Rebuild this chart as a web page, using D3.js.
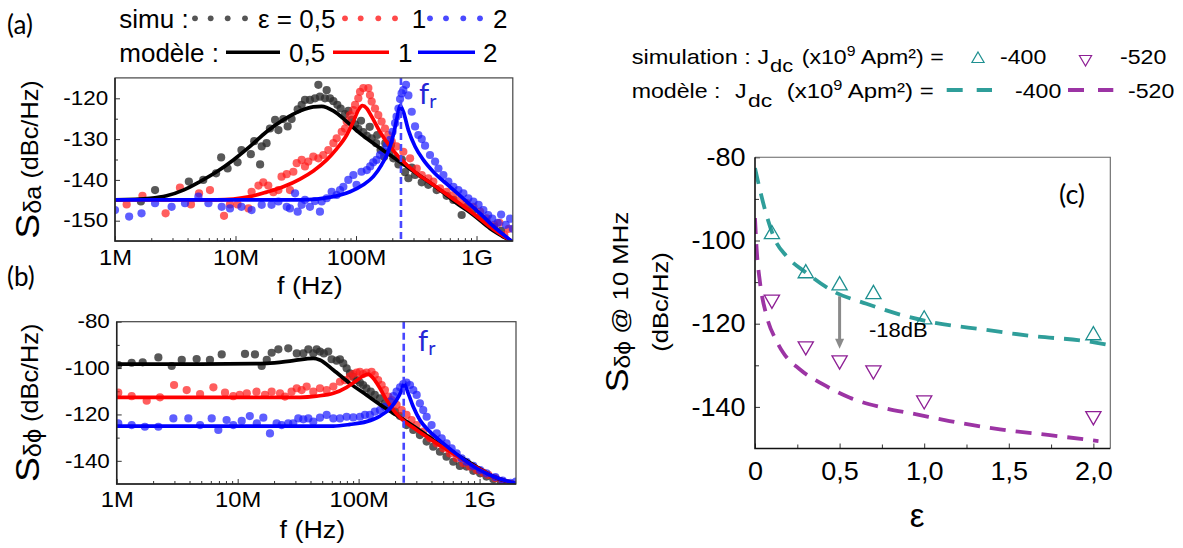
<!DOCTYPE html>
<html><head><meta charset="utf-8">
<script src="https://cdn.jsdelivr.net/npm/d3@7"></script>
<style>html,body{margin:0;padding:0;background:#fff;} svg{display:block;}</style>
</head><body><div id="chart"></div>
<script>
// ---------------- DATA ----------------
// frequencies in MHz, values in dBc/Hz
const freqTicks = [1e6, 1e7, 1e8, 1e9];
const freqTickLabels = ["1M", "10M", "100M", "1G"];
const ticksA = [-150, -140, -130, -120];
const ticksB = [-140, -120, -100, -80];
const epsTicks = [0, 0.5, 1.0, 1.5, 2.0];
const epsTickLabels = ["0", "0,5", "1,0", "1,5", "2,0"];
const ticksC = [-140, -120, -100, -80];

// (a) amplitude noise, simulation
const simA05 = [[1.64,-145.3],[2.15,-142.5],[4.1,-140.4],[5.4,-140.0],[6.9,-138.4],[7.6,-134.5],[8.6,-137.2],[10.4,-135.7],[11.2,-132.7],[13.4,-133.7],[14.3,-130.5],[16,-136.2],[16.5,-131.8],[18.1,-131.0],[19.3,-127.4],[21.3,-125.3],[22.7,-127.8],[24.9,-125.1],[27.1,-126.9],[29.2,-125.1],[32.8,-122.7],[35.4,-121.6],[37.7,-120.4],[41.5,-120.4],[45.7,-120.0],[48.7,-116.7],[50.2,-119.6],[55.3,-120.0],[57.1,-118.0],[60.8,-120.0],[64.9,-120.7],[70,-121.6],[74.6,-122.5],[81.1,-123.9],[86.3,-123.1],[92,-125.3],[98.2,-126.4],[104.5,-127.5],[110,-125.5],[115,-128.3],[123,-129.2],[130,-127],[135,-129.8],[147,-131.0],[150,-129],[160,-132.7],[171,-134.3],[175,-131],[189,-133.2],[195,-131.5],[204,-134.7],[225,-136.2],[240,-135],[255,-138.1],[272,-139.6],[290,-137],[309,-138.8],[351,-140.6],[398,-141.2],[467,-142.5],[565,-143.9],[643,-144.9],[753,-148.6],[828,-146.6],[942,-147.4],[1070,-149.0],[1210,-150.2],[1400,-151.5],[1600,-152.5]];
const simA1 = [[1.25,-146.0],[1.69,-143.9],[2.63,-148.2],[3.46,-141.9],[4.27,-146.0],[4.98,-143.3],[6.14,-142.5],[8.03,-148.8],[9.0,-146.0],[10.4,-146.0],[12.8,-147.0],[13.6,-142.9],[15.5,-141.4],[17.0,-140.6],[18.7,-141.4],[20.6,-143.0],[22.7,-142.5],[24.1,-139.2],[26.6,-138.6],[28.3,-142.5],[30.2,-138.0],[32.2,-135.9],[35.4,-135.1],[37.7,-136.7],[40.2,-135.5],[44.2,-134.3],[48.7,-134.7],[53.5,-133.9],[58.9,-132.7],[64.9,-131.0],[69.1,-129.8],[76.1,-128.2],[81.1,-127.4],[83.7,-125.7],[89.2,-124.1],[95.1,-122.9],[98.2,-121.6],[104.5,-120.0],[108,-118.4],[115,-117.5],[126.6,-117.5],[130.6,-119.2],[134.9,-120.8],[143.8,-122.5],[153,-124.1],[163,-125.7],[174,-127.4],[185,-129.0],[198,-130.6],[217,-131.8],[247,-133.1],[281,-134.7],[319,-137.2],[351,-138.8],[398,-139.6],[438,-140.4],[498,-142.1],[565,-142.9],[643,-143.7],[729,-144.9],[828,-145.7],[942,-146.6],[1070,-147.8],[1210,-149.4],[1400,-151],[1550,-150.5],[1700,-153.5],[1850,-152]];
const simA2 = [[1.0,-147.4],[1.31,-149.0],[1.66,-148.2],[2.15,-145.7],[2.95,-146.6],[3.81,-145.7],[4.92,-144.1],[5.96,-145.7],[7.68,-146.6],[9.0,-147.0],[11.2,-146.6],[13.6,-147.4],[16.5,-146.1],[19.9,-146.1],[22.7,-145.3],[26.6,-146.6],[28.3,-147.0],[31.2,-143.3],[32.8,-147.8],[35.4,-146.1],[37.7,-144.9],[41.5,-146.6],[45.7,-145.2],[50.2,-147.8],[51.9,-145.3],[57.1,-144.5],[62.8,-142.9],[69.1,-143.7],[73.7,-142.5],[78.5,-141.7],[86.3,-140.0],[95.1,-138.8],[101,-141.2],[111,-138.0],[123,-137.6],[131,-136.7],[139,-135.7],[148,-135.1],[158,-133.9],[169,-133.1],[180,-131.6],[192,-130.2],[201,-128.2],[211,-126.1],[217,-124.5],[225,-122.5],[232,-120.2],[239,-118.8],[247,-118.0],[260,-116.7],[272,-119.3],[290,-123.3],[309,-126.9],[329,-129.0],[351,-130.0],[374,-131.6],[411,-133.9],[453,-135.5],[483,-137.2],[531,-138.8],[584,-140.4],[643,-141.7],[707,-142.5],[778,-143.3],[855,-144.5],[942,-145.3],[1040,-146.1],[1140,-147.4],[1250,-148.6],[1350,-149.5],[1500,-150.5],[1600,-148.5],[1750,-151],[1900,-149.5],[2000,-152]];

// (a) model
const modA05 = [[1,-144.9],[1.95,-144.5],[2.68,-143.9],[3.69,-142.5],[5.07,-140.4],[6.98,-138.0],[9.6,-135.1],[13.2,-131.8],[18.1,-128.2],[24.9,-125.3],[34.3,-123.1],[44.2,-122.1],[51.9,-122.0],[64.9,-123.1],[83.7,-125.7],[108,-128.6],[139,-131.0],[191,-133.9],[263,-136.7],[362,-139.6],[498,-142.5],[684,-145.7],[942,-148.6],[1294,-151.9],[2000,-155.2]];
const modA1 = [[1,-144.9],[6.98,-144.9],[9.6,-144.7],[13.2,-144.1],[18.1,-143.0],[24.9,-141.7],[34.3,-139.8],[44.2,-137.8],[57.1,-135.1],[69.1,-132.4],[83.7,-129.0],[95.1,-125.7],[104.5,-122.9],[113,-121.8],[123,-122.5],[135,-124.5],[158,-128.2],[191,-131.8],[232,-134.7],[319,-138.4],[438,-141.2],[603,-144.1],[828,-147.0],[1140,-150.2],[1294,-151.5],[2000,-155.2]];
const modA2 = [[1,-144.9],[34.3,-144.9],[47.2,-144.7],[64.9,-144.1],[89.2,-142.9],[115,-141.2],[139,-139.2],[163,-136.3],[185,-133.1],[204,-129.0],[220,-124.5],[232,-121.8],[247,-123.3],[272,-127.8],[309,-131.8],[362,-135.1],[438,-138.0],[603,-141.7],[828,-145.3],[1140,-149.0],[1294,-150.6],[2000,-155.2]];

// (b) phase noise, simulation
const simB05 = [[1.03,-98.7],[1.33,-97.7],[1.64,-97.5],[2.21,-95.4],[2.85,-99.1],[3.45,-96.5],[4.58,-96.1],[5.9,-96.5],[7.38,-94.1],[11.5,-93.9],[13.9,-94.1],[15.8,-99.1],[17.4,-96.5],[19.1,-93.4],[21.7,-91.9],[26.2,-91.5],[30.8,-93.7],[34.9,-93.7],[38.4,-91.9],[42.2,-93.7],[45,-91.9],[47.9,-92.9],[51.6,-93.7],[56.1,-92.9],[59.8,-96.2],[65.8,-96.8],[70.1,-96.2],[74.7,-98.0],[79.6,-100.1],[84.8,-102.3],[90.3,-103.7],[96.2,-105.2],[102.5,-106.3],[109,-107.3],[116,-108.7],[126,-110.2],[136,-111.6],[150,-113.1],[165,-115.2],[182,-117.4],[200,-118.8],[220,-120.7],[249,-124.6],[283,-126.7],[321,-128.9],[365,-131.7],[414,-133.9],[470,-136.1],[533,-138.2],[606,-140.4],[687,-142.2],[781,-142.5],[887,-144.3],[1010,-145.4],[1140,-146.8],[1300,-148],[1500,-149]];
const simB1 = [[1.03,-110.6],[1.33,-112.1],[1.77,-114.1],[2.28,-112.6],[2.98,-107.3],[3.79,-109.5],[4.89,-111.2],[6.3,-108.3],[7.86,-110.6],[9.2,-112.1],[10.4,-111.6],[11.9,-110.9],[14.3,-110.2],[16.8,-111.6],[19.1,-110.2],[22.4,-110.9],[24.6,-112.3],[27.9,-110.2],[30.8,-108.7],[33.8,-109.5],[37.2,-108.0],[42.2,-110.2],[47.9,-108.7],[54.4,-109.5],[61.8,-108.0],[70.1,-105.9],[77.1,-105.2],[84.8,-103.7],[90.3,-102.6],[96.2,-102.0],[102.5,-101.6],[109,-102.6],[116,-102.0],[128,-101.6],[136,-103.0],[145,-105.2],[155,-107.3],[165,-109.5],[176,-112.3],[187,-113.8],[206,-115.9],[227,-118.1],[249,-120.2],[274,-122.4],[302,-124.6],[342,-127.4],[389,-130.3],[442,-132.5],[501,-134.6],[569,-136.8],[646,-138.9],[733,-141.1],[833,-142.5],[945,-144.0],[1070,-145.1],[1180,-146.1],[1350,-147.5],[1550,-149.5]];
const simB2 = [[1.03,-123.8],[1.33,-124.6],[1.71,-125.3],[2.21,-125.3],[2.94,-121.7],[3.91,-121.7],[4.89,-124.6],[6.1,-121.7],[6.92,-126.7],[8.1,-122.4],[9.2,-124.6],[10.8,-122.8],[12.6,-120.7],[14.4,-123.8],[16.3,-121.4],[18.5,-128.2],[21,-123.8],[23.1,-124.6],[26.2,-123.8],[28.8,-123.8],[31.7,-121.7],[34.9,-122.1],[38.4,-121.7],[42.2,-123.1],[47.9,-121.4],[54.4,-120.2],[61.8,-121.7],[70.1,-121.7],[79.6,-121.0],[90.3,-121.3],[102.5,-121.0],[112.8,-120.2],[124,-120.2],[136,-118.8],[150,-118.1],[165,-116.7],[182,-114.5],[194,-112.1],[206,-110.2],[220,-108.3],[234,-106.9],[249,-106.3],[266,-107.3],[283,-109.5],[302,-111.6],[321,-115.2],[342,-118.1],[365,-121.0],[401,-124.6],[442,-128.2],[486,-130.3],[533,-132.5],[587,-134.6],[646,-136.8],[710,-138.9],[781,-140.4],[887,-142.2],[1010,-144.0],[1140,-145.4],[1350,-147],[1550,-148.5],[1800,-149.5],[2000,-149]];

// (b) model
const modB05 = [[1,-98.3],[4.9,-98.3],[17.4,-98.0],[28.8,-96.8],[42.2,-95.8],[47.9,-96.5],[61.8,-100.8],[84.8,-106.6],[116,-111.6],[160,-116.7],[220,-121.3],[302,-126.0],[414,-131.0],[569,-135.6],[781,-139.9],[1070,-144.3],[1220,-146.1],[2000,-149.8]];
const modB1 = [[1,-112.6],[32.7,-112.6],[45,-112.1],[61.8,-110.9],[79.6,-108.3],[96.2,-105.4],[109,-103.4],[120,-102.6],[132,-104.4],[150,-108.7],[170,-113.8],[194,-118.1],[220,-121.3],[302,-126.7],[414,-131.5],[569,-136.1],[781,-140.4],[1070,-144.4],[1220,-146.1],[2000,-149.8]];
const modB2 = [[1,-125.0],[61.8,-125.0],[84.8,-124.3],[116,-123.1],[150,-120.7],[182,-117.4],[206,-113.8],[227,-109.5],[237,-106.8],[257,-110.9],[283,-116.7],[321,-122.4],[388,-127.4],[501,-132.5],[687,-138.2],[945,-143.2],[1220,-146.1],[2000,-149.8]];

const frMHz = 236; // resonance frequency f_r

// (c) phase noise @ 10 MHz vs epsilon
const epsSim = [0.1, 0.3, 0.5, 0.7, 1.0, 2.0];
const sim400 = [-98.5, -107.9, -110.8, -112.9, -119.0, -122.8];
const sim520 = [-114.2, -125.4, -128.8, -131.2, -138.4, -142.2];
const mod400 = [[0,-82.6],[0.059,-92.6],[0.118,-99.8],[0.187,-103.8],[0.305,-107.8],[0.462,-112.2],[0.659,-115.2],[0.857,-117.8],[1.054,-119.7],[1.35,-121.4],[1.645,-123.0],[1.96,-124.2],[2.1,-125.2]];
const mod520 = [[0,-94.6],[0.01,-102.2],[0.03,-110.2],[0.069,-118.2],[0.128,-124.2],[0.167,-127],[0.266,-131],[0.403,-134.6],[0.561,-137.8],[0.758,-140.2],[0.955,-141.8],[1.15,-143.4],[1.448,-145.4],[1.743,-146.8],[2.03,-148.2]];
const arrowC = {eps: 0.5, from: -113.4, to: -126.0, label: "-18dB", labelEps: 0.674, labelVal: -123.3};

// ---------------- DRAWING ----------------
const SANS = "'Liberation Sans', Arial, Helvetica, sans-serif";
const HUM = "Lato, 'Open Sans', sans-serif";
const COL = {k: "#2e2e2e", r: "#ff1a1a", b: "#1a1aff", kl: "#000000", rl: "#ff0000", bl: "#0000ff",
             teal: "#2f9e9a", purple: "#9c34a4", tealS: "#1e9090", purpleS: "#8e1f95", fr: "#4747ff"};

const svg = d3.select("#chart").append("svg").attr("width", 1183).attr("height", 548);

function txt(g, x, y, parts, o) {
  const t = g.append("text")
    .attr("transform", `translate(${x},${y}) rotate(${o.rot || 0}) scale(${o.sx || 1},1)`)
    .attr("text-anchor", o.anchor || "start")
    .style("font-family", o.font || SANS)
    .style("font-size", o.size + "px")
    .attr("fill", o.fill || "#000");
  if (typeof parts === "string") t.text(parts);
  else parts.forEach(p => t.append("tspan").text(p.t)
        .style("font-size", (p.size || o.size) + "px").attr("dy", p.dy || 0));
  return t;
}

let clipN = 0;
function drawFreqPanel(p) {
  const g = svg.append("g");
  const x = p.x, y = p.y;
  const [xl, xr] = x.range(), [yb, yt] = y.range();
  const cid = "clip" + (clipN++);
  g.append("clipPath").attr("id", cid).append("rect")
    .attr("x", xl).attr("y", yt).attr("width", xr - xl).attr("height", yb - yt);

  const minor = [];
  freqTicks.forEach(dec => { for (let m = 2; m <= 9; m++) if (dec * m < x.domain()[1]) minor.push(dec * m); });
  const ax1 = g.append("g").attr("transform", `translate(0,${yb})`)
    .call(d3.axisBottom(x).tickValues(minor).tickSize(-3).tickFormat(""));
  const ax2 = g.append("g").attr("transform", `translate(0,${yb})`)
    .call(d3.axisBottom(x).tickValues(freqTicks).tickSize(-5).tickPadding(p.xPad)
      .tickFormat((d, i) => freqTickLabels[i]));
  ax2.selectAll("text").style("font-family", SANS).style("font-size", "22px").attr("fill", "#000")
    .attr("transform", "scale(1.08,1)");
  const ay1 = g.append("g").attr("transform", `translate(${xl},0)`)
    .call(d3.axisLeft(y).tickValues(p.yMinor).tickSize(-3).tickFormat(""));
  const ay2 = g.append("g").attr("transform", `translate(${xl},0)`)
    .call(d3.axisLeft(y).tickValues(p.yTicks).tickSize(-5).tickPadding(6).tickFormat(d => String(d)));
  ay2.selectAll("text").style("font-family", SANS).style("font-size", "19.5px").attr("fill", "#000")
    .attr("transform", "scale(1.15,1)");
  [ax1, ax2, ay1, ay2].forEach(a => { a.select(".domain").remove(); a.selectAll("line").attr("stroke", "#333"); });

  const dotsG = g.append("g").attr("clip-path", `url(#${cid})`);
  p.sims.forEach(s => {
    dotsG.append("g").selectAll("circle").data(s.data).join("circle")
      .attr("cx", d => x(d[0] * 1e6)).attr("cy", d => y(d[1])).attr("r", 4.1)
      .attr("fill", s.color).attr("fill-opacity", s.op);
  });
  const line = d3.line().x(d => x(d[0] * 1e6)).y(d => y(d[1])).curve(d3.curveMonotoneX);
  const linesG = g.append("g").attr("clip-path", `url(#${cid})`);
  p.mods.forEach(m => {
    linesG.append("path").datum(m.data).attr("d", line).attr("fill", "none")
      .attr("stroke", m.color).attr("stroke-width", 3.7).attr("stroke-linejoin", "round");
  });
  g.append("line").attr("x1", x(frMHz * 1e6)).attr("x2", x(frMHz * 1e6)).attr("y1", yt).attr("y2", yb)
    .attr("stroke", COL.fr).attr("stroke-width", 2.6).attr("stroke-dasharray", "7,4");
  txt(g, p.frX, p.frY, [{t: "f"}, {t: "r", size: 20, dy: 4}], {size: 29, font: HUM, fill: "#2626d6"});
  g.append("rect").attr("x", xl).attr("y", yt).attr("width", xr - xl).attr("height", yb - yt)
    .attr("fill", "none").attr("stroke", "#444").attr("stroke-width", 1.2);
  g.append("path").attr("d", `M${xl},${yt}V${yb}H${xr}`).attr("fill", "none").attr("stroke", "#222").attr("stroke-width", 1.5);
  txt(g, (xl + xr) / 2 - 4, p.xLabY, "f (Hz)", {size: 24, anchor: "middle", sx: 1.12});
  txt(g, 39, (yt + yb) / 2, [{t: "S", size: 34}, {t: p.sub, size: 23, dy: 2}, {t: " (dBc/Hz)", size: 23, dy: -3}],
      {size: 23, anchor: "middle", rot: -90, sx: 1.1});
  return g;
}

// Panel (a)
const xA = d3.scaleLog().domain([1e6, 2e9]).range([115, 512.8]);
const yA = d3.scaleLinear().domain([-155, -115]).range([241.1, 77.9]);
drawFreqPanel({x: xA, y: yA, yTicks: ticksA, yMinor: [-145, -135, -125], xPad: 8, xLabY: 294, sub: "δa",
  frX: 419, frY: 104,
  sims: [{data: simA05, color: COL.k, op: 0.8}, {data: simA1, color: COL.r, op: 0.7}, {data: simA2, color: COL.b, op: 0.7}],
  mods: [{data: modA05, color: COL.kl}, {data: modA1, color: COL.rl}, {data: modA2, color: COL.bl}]});

// Panel (b)
const xB = d3.scaleLog().domain([1e6, 2e9]).range([116.7, 516]);
const yB = d3.scaleLinear().domain([-150, -80]).range([484, 321.7]);
drawFreqPanel({x: xB, y: yB, yTicks: ticksB, yMinor: [-130, -110, -90], xPad: 7, xLabY: 538, sub: "δϕ",
  frX: 418, frY: 351,
  sims: [{data: simB05, color: COL.k, op: 0.8}, {data: simB1, color: COL.r, op: 0.7}, {data: simB2, color: COL.b, op: 0.7}],
  mods: [{data: modB05, color: COL.kl}, {data: modB1, color: COL.rl}, {data: modB2, color: COL.bl}]});

txt(svg, 7, 34, "(a)", {size: 26, font: HUM});
txt(svg, 7, 286, "(b)", {size: 26, font: HUM});

// Legend (a)
const lgA = svg.append("g");
const LS = {size: 25, sx: 1.04};
txt(lgA, 119.3, 28.3, "simu :", LS);
txt(lgA, 258, 28.3, "ε = 0,5", LS);
txt(lgA, 411.7, 28.3, "1", LS);
txt(lgA, 493, 28.3, "2", LS);
const dotPos = [[195, 210.7, 227.7, 245, "#555"], [345, 360.7, 378.3, 395, "#ff4a4a"], [430, 446, 463.3, 480, "#4a4aff"]];
dotPos.forEach(dp => dp.slice(0, 4).forEach(cx => lgA.append("circle").attr("cx", cx).attr("cy", 18.3).attr("r", 2.9).attr("fill", dp[4])));
txt(lgA, 119.3, 61.7, "modèle :", LS);
txt(lgA, 289, 61.7, "0,5", LS);
txt(lgA, 398, 61.7, "1", LS);
txt(lgA, 483, 61.7, "2", LS);
[[226, 280, "#000"], [333, 389, "#ff0000"], [418, 475, "#0000ff"]].forEach(l =>
  lgA.append("line").attr("x1", l[0]).attr("x2", l[1]).attr("y1", 52.3).attr("y2", 52.3).attr("stroke", l[2]).attr("stroke-width", 3.5));

// Panel (c)
const xC = d3.scaleLinear().domain([0, 2.1]).range([755, 1110.3]);
const yC = d3.scaleLinear().domain([-150, -80]).range([448.5, 157.3]);
const gC = svg.append("g");
{
  const [xl, xr] = xC.range(), [yb, yt] = yC.range();
  gC.append("clipPath").attr("id", "clipC").append("rect").attr("x", xl).attr("y", yt).attr("width", xr - xl).attr("height", yb - yt);
  const a1 = gC.append("g").attr("transform", `translate(0,${yb})`)
    .call(d3.axisBottom(xC).tickValues([0.25, 0.75, 1.25, 1.75]).tickSize(-4).tickFormat(""));
  const a2 = gC.append("g").attr("transform", `translate(0,${yb})`)
    .call(d3.axisBottom(xC).tickValues(epsTicks).tickSize(-5).tickPadding(13).tickFormat((d, i) => epsTickLabels[i]));
  a2.selectAll("text").style("font-family", SANS).style("font-size", "25.5px").attr("fill", "#000").attr("transform", "scale(1.06,1)");
  const a3 = gC.append("g").attr("transform", `translate(${xl},0)`)
    .call(d3.axisLeft(yC).tickValues([-130, -110, -90]).tickSize(-4).tickFormat(""));
  const a4 = gC.append("g").attr("transform", `translate(${xl},0)`)
    .call(d3.axisLeft(yC).tickValues(ticksC).tickSize(-5).tickPadding(9).tickFormat(d => String(d)));
  a4.selectAll("text").style("font-family", SANS).style("font-size", "25.5px").attr("fill", "#000").attr("transform", "scale(1.06,1)");
  [a1, a2, a3, a4].forEach(a => { a.select(".domain").remove(); a.selectAll("line").attr("stroke", "#333"); });

  const line = d3.line().x(d => xC(d[0])).y(d => yC(d[1])).curve(d3.curveMonotoneX);
  const cg = gC.append("g").attr("clip-path", "url(#clipC)");
  cg.append("path").datum(mod400).attr("d", line).attr("fill", "none").attr("stroke", COL.teal)
    .attr("stroke-width", 3.8).attr("stroke-dasharray", "16,10");
  cg.append("path").datum(mod520).attr("d", line).attr("fill", "none").attr("stroke", COL.purple)
    .attr("stroke-width", 3.8).attr("stroke-dasharray", "16,10");

  const tri = d3.symbol(d3.symbolTriangle, 100)();
  gC.append("g").selectAll("path").data(epsSim).join("path").attr("d", tri)
    .attr("transform", (d, i) => `translate(${xC(d)},${yC(sim400[i])})`)
    .attr("fill", "none").attr("stroke", COL.tealS).attr("stroke-width", 1.3);
  gC.append("g").selectAll("path").data(epsSim).join("path").attr("d", tri)
    .attr("transform", (d, i) => `translate(${xC(d)},${yC(sim520[i])}) rotate(180)`)
    .attr("fill", "none").attr("stroke", COL.purpleS).attr("stroke-width", 1.3);

  const ax = xC(arrowC.eps), ay0 = yC(arrowC.from), ay1 = yC(arrowC.to);
  gC.append("line").attr("x1", ax).attr("x2", ax).attr("y1", ay0).attr("y2", ay1 - 9)
    .attr("stroke", "#8a8a8a").attr("stroke-width", 3);
  gC.append("path").attr("d", `M${ax - 4.5},${ay1 - 10}L${ax + 4.5},${ay1 - 10}L${ax},${ay1}Z`).attr("fill", "#8a8a8a");
  txt(gC, xC(arrowC.labelEps), yC(arrowC.labelVal), arrowC.label, {size: 20, sx: 1.1});

  gC.append("path").attr("d", `M${xl},${yt}H${xr}V${yb}`).attr("fill", "none").attr("stroke", "#666").attr("stroke-width", 1.1);
  gC.append("path").attr("d", `M${xl},${yt}V${yb}H${xr}`).attr("fill", "none").attr("stroke", "#111").attr("stroke-width", 1.6);

  txt(gC, 1059, 204, "(c)", {size: 27, font: HUM});
  txt(gC, 917, 527, "ε", {size: 33, anchor: "middle"});
  txt(gC, 628, 302, [{t: "S", size: 32}, {t: "δϕ", size: 22, dy: 2}, {t: " @ 10 MHz", size: 23, dy: -2}],
      {size: 23, anchor: "middle", rot: -90, sx: 1.12});
  txt(gC, 668, 302, "(dBc/Hz)", {size: 22.5, anchor: "middle", rot: -90, sx: 1.14});
}

// Legend (c)
const lgC = svg.append("g");
const LC = {size: 20.5, sx: 1.13};
function legendRow(y, pieces) {
  pieces.forEach(p => txt(lgC, p[1], y + (p[2] || 0), p[0], Object.assign({}, LC, p[3] || {})));
}
const supParts = [{t: "(x10"}, {t: "9", size: 14, dy: -8}, {t: " Apm²) =", dy: 8}];
legendRow(64.3, [["simulation :", 631.7, 0, {sx: 1.15}], ["J", 757.5], ["dc", 770, 7.5, {size: 19, sx: 1.15}],
  [supParts, 801.7], ["-400", 1000], ["-520", 1120]]);
legendRow(98.3, [["modèle :", 631.7], ["J", 735], ["dc", 748, 8.4, {size: 19, sx: 1.2}],
  [supParts, 786.7, 0, {sx: 1.17}], ["-400", 1015], ["-520", 1128]]);
const triL = d3.symbol(d3.symbolTriangle, 64)();
lgC.append("path").attr("d", triL).attr("transform", "translate(978,59)").attr("fill", "none").attr("stroke", COL.tealS).attr("stroke-width", 1.2);
lgC.append("path").attr("d", triL).attr("transform", "translate(1085.5,59) rotate(180)").attr("fill", "none").attr("stroke", COL.purpleS).attr("stroke-width", 1.2);
lgC.append("line").attr("x1", 946.7).attr("x2", 992).attr("y1", 90).attr("y2", 90).attr("stroke", COL.teal).attr("stroke-width", 3.8).attr("stroke-dasharray", "16,14");
lgC.append("line").attr("x1", 1068).attr("x2", 1113.3).attr("y1", 90).attr("y2", 90).attr("stroke", COL.purple).attr("stroke-width", 3.8).attr("stroke-dasharray", "16,14");
</script></body></html>
